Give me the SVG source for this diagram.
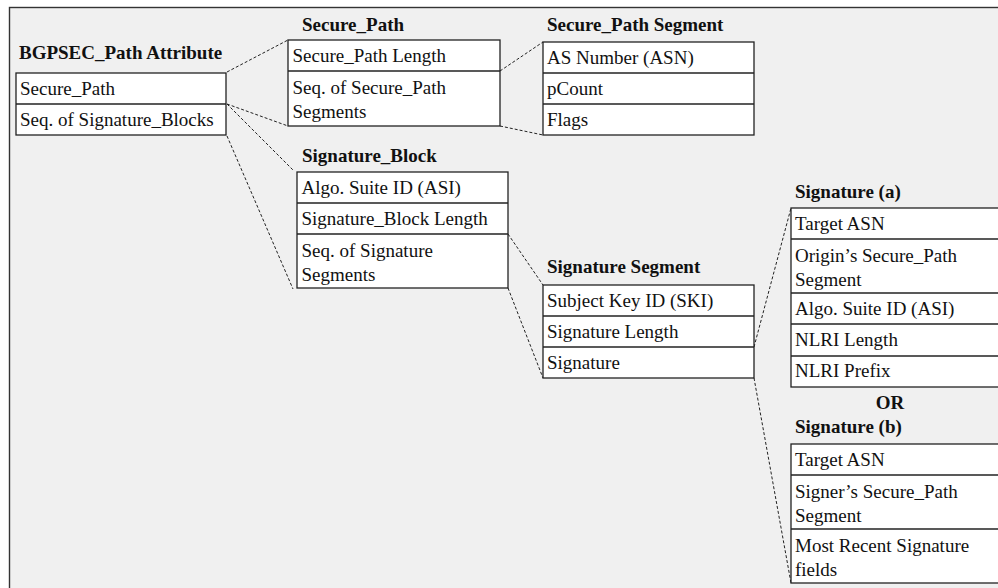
<svg xmlns="http://www.w3.org/2000/svg" width="998" height="588" viewBox="0 0 998 588">
  <style>
    .bg { fill: #f0f0f0; stroke: #333; stroke-width: 1.4; }
    .box { fill: #ffffff; stroke: #222; stroke-width: 1.3; }
    .sep { stroke: #222; stroke-width: 1.3; }
    .t { font-family: "Liberation Serif", "Times New Roman", serif; font-size: 19px; fill: #111; }
    .h { font-family: "Liberation Serif", "Times New Roman", serif; font-size: 19px; font-weight: bold; fill: #111; }
    .link { stroke: #222; stroke-width: 1; stroke-dasharray: 3 2; fill: none; }
  </style>

  <!-- outer frame -->
  <rect class="bg" x="9.5" y="7.5" width="1000" height="600"/>

  <!-- connectors -->
  <g id="connectors">
    <line class="link" x1="227" y1="72" x2="288" y2="40"/>
    <line class="link" x1="227" y1="104" x2="288" y2="126"/>
    <line class="link" x1="227" y1="104" x2="294" y2="171"/>
    <line class="link" x1="227" y1="136" x2="293" y2="289"/>
    <line class="link" x1="500" y1="71" x2="543" y2="42"/>
    <line class="link" x1="500" y1="126" x2="543" y2="135"/>
    <line class="link" x1="508" y1="234" x2="543" y2="285"/>
    <line class="link" x1="508" y1="288" x2="543" y2="378"/>
    <line class="link" x1="754" y1="347" x2="791" y2="208"/>
    <line class="link" x1="754" y1="378" x2="791" y2="583"/>
  </g>

  <!-- BGPSEC_Path Attribute -->
  <g id="bgpsec-path-attribute">
    <text class="h" x="19" y="59">BGPSEC_Path Attribute</text>
    <rect class="box" x="16" y="73" width="210" height="62"/>
    <line class="sep" x1="16" y1="104" x2="226" y2="104"/>
    <text class="t" x="20" y="95">Secure_Path</text>
    <text class="t" x="20" y="126">Seq. of Signature_Blocks</text>
  </g>

  <!-- Secure_Path -->
  <g id="secure-path">
    <text class="h" x="302" y="31">Secure_Path</text>
    <rect class="box" x="288" y="40" width="212" height="86"/>
    <line class="sep" x1="288" y1="71" x2="500" y2="71"/>
    <text class="t" x="292.5" y="62">Secure_Path Length</text>
    <text class="t" x="292.5" y="94">Seq. of Secure_Path</text>
    <text class="t" x="292.5" y="118">Segments</text>
  </g>

  <!-- Secure_Path Segment -->
  <g id="secure-path-segment">
    <text class="h" x="547" y="31">Secure_Path Segment</text>
    <rect class="box" x="543" y="42" width="211" height="93"/>
    <line class="sep" x1="543" y1="73" x2="754" y2="73"/>
    <line class="sep" x1="543" y1="104" x2="754" y2="104"/>
    <text class="t" x="547" y="64">AS Number (ASN)</text>
    <text class="t" x="547" y="95">pCount</text>
    <text class="t" x="547" y="126">Flags</text>
  </g>

  <!-- Signature_Block -->
  <g id="signature-block">
    <text class="h" x="302" y="162">Signature_Block</text>
    <rect class="box" x="297" y="172" width="211" height="116"/>
    <line class="sep" x1="297" y1="203" x2="508" y2="203"/>
    <line class="sep" x1="297" y1="234" x2="508" y2="234"/>
    <text class="t" x="301.5" y="194">Algo. Suite ID (ASI)</text>
    <text class="t" x="301.5" y="225">Signature_Block Length</text>
    <text class="t" x="301.5" y="257">Seq. of Signature</text>
    <text class="t" x="301.5" y="281">Segments</text>
  </g>

  <!-- Signature Segment -->
  <g id="signature-segment">
    <text class="h" x="547" y="273">Signature Segment</text>
    <rect class="box" x="543" y="285" width="211" height="93"/>
    <line class="sep" x1="543" y1="316" x2="754" y2="316"/>
    <line class="sep" x1="543" y1="347" x2="754" y2="347"/>
    <text class="t" x="547" y="307">Subject Key ID (SKI)</text>
    <text class="t" x="547" y="338">Signature Length</text>
    <text class="t" x="547" y="369">Signature</text>
  </g>

  <!-- Signature (a) -->
  <g id="signature-a">
    <text class="h" x="795" y="198">Signature (a)</text>
    <rect class="box" x="791" y="208" width="220" height="179"/>
    <line class="sep" x1="791" y1="239" x2="1011" y2="239"/>
    <line class="sep" x1="791" y1="293" x2="1011" y2="293"/>
    <line class="sep" x1="791" y1="324" x2="1011" y2="324"/>
    <line class="sep" x1="791" y1="356" x2="1011" y2="356"/>
    <text class="t" x="795" y="230">Target ASN</text>
    <text class="t" x="795" y="262">Origin’s Secure_Path</text>
    <text class="t" x="795" y="286">Segment</text>
    <text class="t" x="795" y="315">Algo. Suite ID (ASI)</text>
    <text class="t" x="795" y="346">NLRI Length</text>
    <text class="t" x="795" y="377">NLRI Prefix</text>
  </g>

  <!-- alternative -->
  <g id="or-label">
    <text class="h" x="890" y="409" text-anchor="middle">OR</text>
  </g>

  <!-- Signature (b) -->
  <g id="signature-b">
    <text class="h" x="795" y="433">Signature (b)</text>
    <rect class="box" x="791" y="444" width="220" height="139"/>
    <line class="sep" x1="791" y1="475" x2="1011" y2="475"/>
    <line class="sep" x1="791" y1="529" x2="1011" y2="529"/>
    <text class="t" x="795" y="466">Target ASN</text>
    <text class="t" x="795" y="498">Signer’s Secure_Path</text>
    <text class="t" x="795" y="522">Segment</text>
    <text class="t" x="795" y="552">Most Recent Signature</text>
    <text class="t" x="795" y="576">fields</text>
  </g>
</svg>
